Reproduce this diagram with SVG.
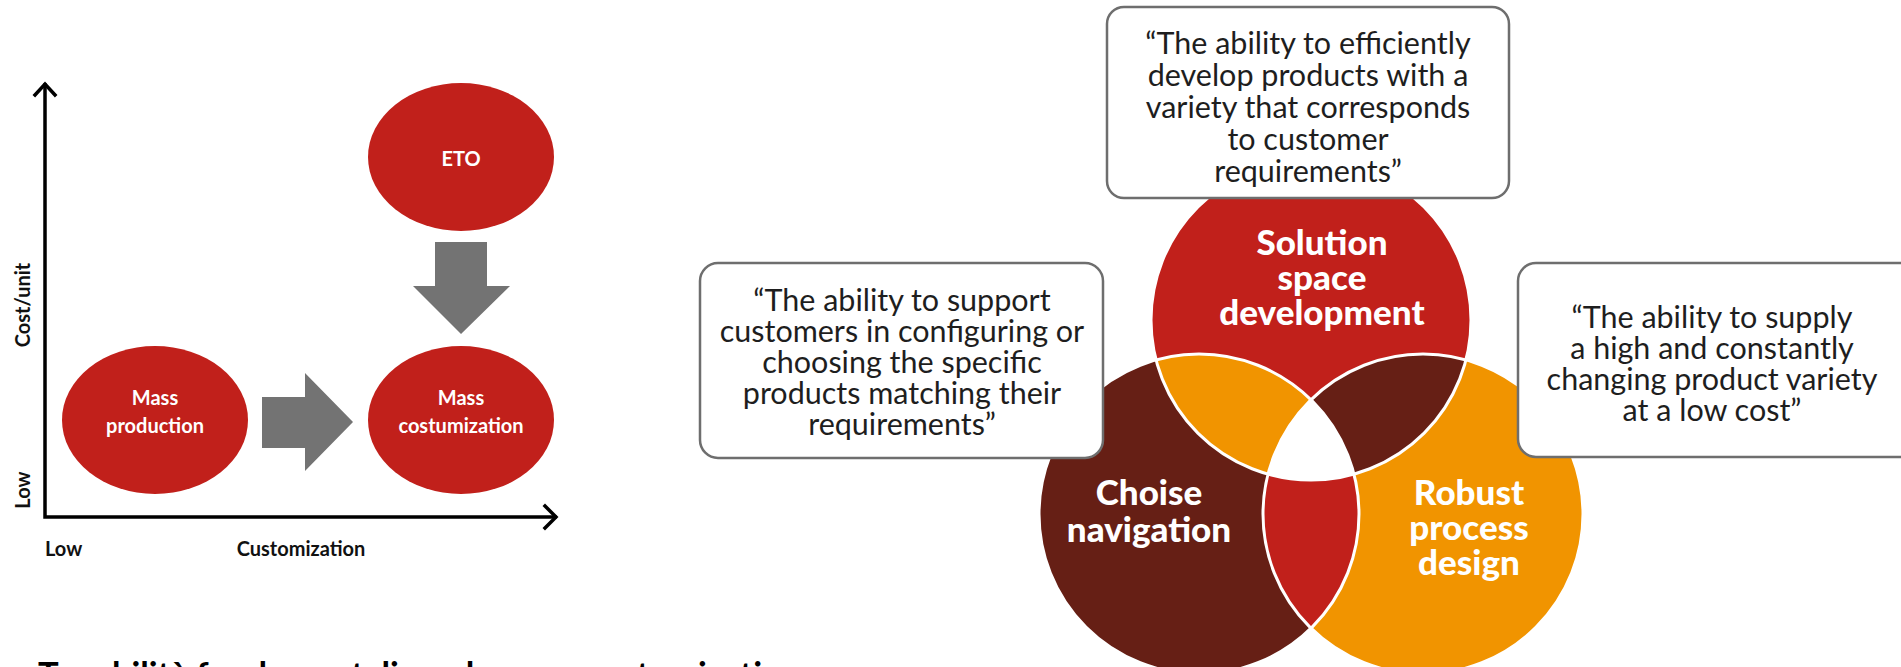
<svg xmlns="http://www.w3.org/2000/svg" width="1901" height="667" viewBox="0 0 1901 667">
<style>
.f{font-family:Lato,"Liberation Sans","DejaVu Sans",sans-serif}
.box{fill:#fff;stroke:#6e6e6e;stroke-width:2.5}
.q{font-size:30.5px;fill:#1e1e1e;text-anchor:middle}
.el{fill:#c1201b}
.lbl{font-size:20px;font-weight:700;fill:#fff;text-anchor:middle}
.vl{font-size:35px;font-weight:900;fill:#fff;text-anchor:middle}
.ax{font-size:20px;font-weight:700;fill:#111}
.axis{fill:none;stroke:#000;stroke-width:3.5;stroke-linecap:square}
.garrow{fill:#737373}
.sep{fill:none;stroke:#fff;stroke-width:3}
</style>
<defs>
<clipPath id="cT"><circle cx="1311" cy="320" r="160"/></clipPath>
<clipPath id="cL"><circle cx="1199" cy="514" r="160"/></clipPath>
<clipPath id="cR"><circle cx="1423" cy="514" r="160"/></clipPath>
</defs>
<rect width="1901" height="667" fill="#fff"/>

<!-- left chart axes -->
<g id="axes">
<polyline class="axis" points="45,85 45,517 555,517"/>
<polyline class="axis" points="35,95 45,84 55,95"/>
<polyline class="axis" points="545,506 556,517 545,528"/>
<text class="f ax" transform="translate(30,305) rotate(-90)" text-anchor="middle">Cost/unit</text>
<text class="f ax" transform="translate(30,490) rotate(-90)" text-anchor="middle">Low</text>
<text class="f ax" x="45" y="556">Low</text>
<text class="f ax" x="301" y="556" text-anchor="middle">Customization</text>
</g>

<g id="connectors">
<polygon class="garrow" points="435,242 487,242 487,286 510,286 461,334 413,286 435,286"/>
<polygon class="garrow" points="262,397 305,397 305,373 353,422 305,471 305,448 262,448"/>
</g>

<g id="eto">
<ellipse class="el" cx="461" cy="157" rx="93" ry="74"/>
<text class="f lbl" x="461" y="166">ETO</text>
</g>
<g id="mass-production">
<ellipse class="el" cx="155" cy="420" rx="93" ry="74"/>
<text class="f lbl" x="155" y="405">Mass</text>
<text class="f lbl" x="155" y="433">production</text>
</g>
<g id="mass-customization">
<ellipse class="el" cx="461" cy="420" rx="93" ry="74"/>
<text class="f lbl" x="461" y="405">Mass</text>
<text class="f lbl" x="461" y="433">costumization</text>
</g>

<!-- Venn -->
<g id="venn">
<circle cx="1311" cy="320" r="160" fill="#c1201b"/>
<circle cx="1199" cy="514" r="160" fill="#661f15"/>
<circle cx="1423" cy="514" r="160" fill="#f19400"/>
<circle cx="1199" cy="514" r="160" fill="#f19400" clip-path="url(#cT)"/>
<circle cx="1423" cy="514" r="160" fill="#661f15" clip-path="url(#cT)"/>
<circle cx="1423" cy="514" r="160" fill="#c1201b" clip-path="url(#cL)"/>
<g clip-path="url(#cT)"><circle cx="1423" cy="514" r="160" fill="#fff" clip-path="url(#cL)"/></g>
<circle class="sep" cx="1311" cy="320" r="160"/>
<circle class="sep" cx="1199" cy="514" r="160"/>
<circle class="sep" cx="1423" cy="514" r="160"/>
</g>
<g id="solution-space">
<text class="f vl" x="1322" y="255">Solution</text>
<text class="f vl" x="1322" y="290">space</text>
<text class="f vl" x="1322" y="325">development</text>
</g>
<g id="choise-navigation">
<text class="f vl" x="1149" y="505">Choise</text>
<text class="f vl" x="1149" y="542">navigation</text>
</g>
<g id="robust-process">
<text class="f vl" x="1469" y="505">Robust</text>
<text class="f vl" x="1469" y="540">process</text>
<text class="f vl" x="1469" y="575">design</text>
</g>

<g id="box-top">
<rect class="box" x="1107" y="7" width="402" height="191" rx="17"/>
<text class="f q" x="1308" y="54">“The ability to efficiently</text>
<text class="f q" x="1308" y="86">develop products with a</text>
<text class="f q" x="1308" y="118">variety that corresponds</text>
<text class="f q" x="1308" y="150">to customer</text>
<text class="f q" x="1308" y="182">requirements”</text>
</g>
<g id="box-left">
<rect class="box" x="700" y="263" width="403" height="195" rx="18"/>
<text class="f q" x="902" y="311">“The ability to support</text>
<text class="f q" x="902" y="342">customers in configuring or</text>
<text class="f q" x="902" y="373">choosing the specific</text>
<text class="f q" x="902" y="404">products matching their</text>
<text class="f q" x="902" y="435">requirements”</text>
</g>
<g id="box-right">
<rect class="box" x="1518" y="263" width="400" height="194" rx="18"/>
<text class="f q" x="1712" y="328">“The ability to supply</text>
<text class="f q" x="1712" y="359">a high and constantly</text>
<text class="f q" x="1712" y="390">changing product variety</text>
<text class="f q" x="1712" y="421">at a low cost”</text>
</g>

<text class="f" x="38" y="687" font-size="34.5" font-weight="700" fill="#000">Tre abilità fondamentali per la mass customization</text>
</svg>
